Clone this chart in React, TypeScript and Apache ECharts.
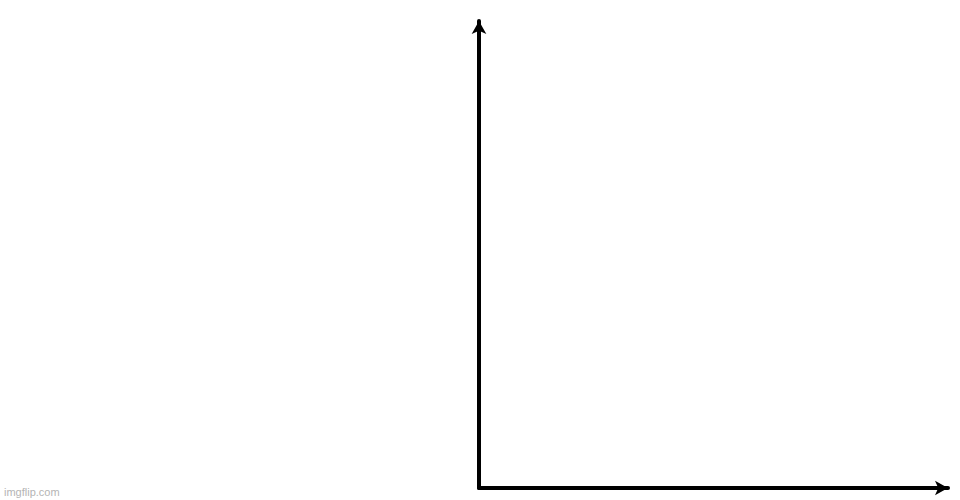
import * as echarts from "echarts"
import { useEffect, useRef } from "react"

// blank axes: no series, no ticks, just the two arrowed lines
const xRange = [0, 10]
const yRange = [0, 10]
const watermark = "imgflip.com"

const App: React.FC = () => {
    const divRef = useRef<HTMLDivElement | null>(null)

    useEffect(() => {
        document.body.style.margin = "0"
        if (!divRef.current) return
        const chart = echarts.init(divRef.current, null, { renderer: "svg" })

        const axisLine = {
            show: true,
            symbol: ["none", "arrow"],
            symbolSize: [11, 13],
            lineStyle: { color: "#000", width: 4 }
        }

        chart.setOption({
            animation: false,
            backgroundColor: "#fff",
            grid: { left: 479, right: 12, top: 21, bottom: 12 },
            xAxis: {
                type: "value",
                min: xRange[0],
                max: xRange[1],
                axisLine,
                axisTick: { show: false },
                axisLabel: { show: false },
                splitLine: { show: false }
            },
            yAxis: {
                type: "value",
                min: yRange[0],
                max: yRange[1],
                axisLine,
                axisTick: { show: false },
                axisLabel: { show: false },
                splitLine: { show: false }
            },
            series: [],
            graphic: [
                {
                    type: "text",
                    left: 4,
                    bottom: 3,
                    style: {
                        text: watermark,
                        fill: "#b4b4b4",
                        font: "11px 'Liberation Sans', Arial, sans-serif"
                    }
                }
            ]
        })

        return () => {
            chart.dispose()
        }
    }, [])

    return <div ref={divRef} style={{ width: 960, height: 500 }}></div>
}

export default App
